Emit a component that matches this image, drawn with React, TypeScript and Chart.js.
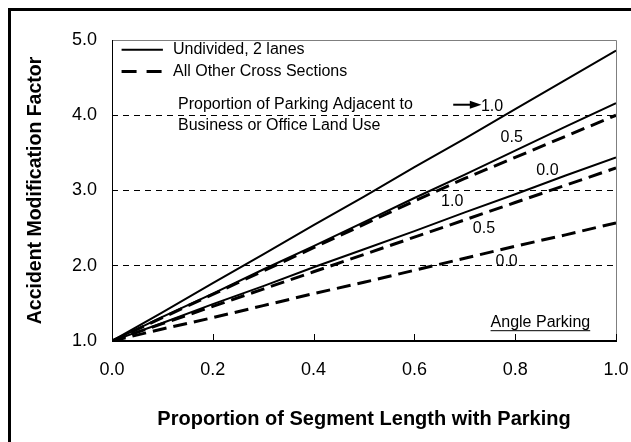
import React, { useEffect, useRef } from 'react';
import { Chart, registerables } from 'chart.js';

Chart.register(...registerables);

// ---- data ----
const proportionWithParking = [0, 0.1, 0.2, 0.3, 0.4, 0.5, 0.6, 0.7, 0.8, 0.9, 1.0];
const undivided10 = [1.0, 1.38, 1.77, 2.15, 2.54, 2.92, 3.31, 3.69, 4.08, 4.47, 4.86];
const undivided05 = [1.0, 1.32, 1.63, 1.95, 2.26, 2.58, 2.9, 3.21, 3.53, 3.85, 4.16];
const undivided00 = [1.0, 1.24, 1.49, 1.73, 1.98, 2.22, 2.46, 2.71, 2.95, 3.2, 3.44];
const other10 = [1.0, 1.31, 1.62, 1.93, 2.24, 2.55, 2.86, 3.16, 3.44, 3.72, 4.0];
const other05 = [1.0, 1.23, 1.46, 1.69, 1.92, 2.15, 2.38, 2.61, 2.84, 3.07, 3.3];
const other00 = [1.0, 1.16, 1.31, 1.47, 1.63, 1.78, 1.94, 2.1, 2.26, 2.41, 2.57];

const xTickLabels = ['0.0', '0.2', '0.4', '0.6', '0.8', '1.0'];
const yTickLabels = ['1.0', '2.0', '3.0', '4.0', '5.0'];
const curveLabels = ['1.0', '0.5', '0.0'];
const legendLabels = ['Undivided, 2 lanes', 'All Other Cross Sections'];
const noteLines = ['Proportion of Parking Adjacent to', 'Business or Office Land Use'];
const cornerNote = 'Angle Parking';
const xTitle = 'Proportion of Segment Length with Parking';
const yTitle = 'Accident Modification Factor';

const FONT = "'Liberation Sans', Arial, Helvetica, sans-serif";
const PLOT_DASH = [14, 7];

const annotationPlugin = {
  id: 'annotations',
  afterDatasetsDraw(chart: any) {
    const { ctx, scales } = chart;
    const xs = scales.x;
    const ys = scales.y;
    const px = (v: number) => xs.getPixelForValue(v);
    const py = (v: number) => ys.getPixelForValue(v);
    const left = px(0), right = px(1), top = py(5), bottom = py(1);
    ctx.save();

    // frame
    ctx.setLineDash([]);
    ctx.strokeStyle = '#7f7f7f';
    ctx.lineWidth = 1;
    ctx.beginPath();
    ctx.moveTo(left, Math.round(top) + 0.5);
    ctx.lineTo(Math.round(right) + 0.5, Math.round(top) + 0.5);
    ctx.lineTo(Math.round(right) + 0.5, bottom);
    ctx.stroke();
    ctx.strokeStyle = '#000';
    ctx.beginPath();
    ctx.moveTo(Math.round(left) + 0.5, top);
    ctx.lineTo(Math.round(left) + 0.5, bottom);
    ctx.stroke();
    ctx.lineWidth = 2;
    ctx.beginPath();
    ctx.moveTo(left, Math.round(bottom));
    ctx.lineTo(right + 1, Math.round(bottom));
    ctx.stroke();

    // inner x ticks
    ctx.lineWidth = 1;
    xs.ticks.forEach((t: any) => {
      const x = Math.round(px(t.value)) + 0.5;
      ctx.beginPath();
      ctx.moveTo(x, bottom);
      ctx.lineTo(x, bottom - 7);
      ctx.stroke();
    });

    // legend
    ctx.fillStyle = '#000';
    ctx.font = `16px ${FONT}`;
    ctx.textBaseline = 'middle';
    ctx.textAlign = 'left';
    ctx.lineWidth = 2;
    ctx.beginPath();
    ctx.moveTo(px(0.019), py(4.87));
    ctx.lineTo(px(0.101), py(4.87));
    ctx.stroke();
    ctx.fillText(legendLabels[0], px(0.121), py(4.87));
    ctx.lineWidth = 3;
    ctx.setLineDash([15, 10]);
    ctx.beginPath();
    ctx.moveTo(px(0.019), py(4.58));
    ctx.lineTo(px(0.101), py(4.58));
    ctx.stroke();
    ctx.setLineDash([]);
    ctx.fillText(legendLabels[1], px(0.121), py(4.58));

    // note with arrow
    ctx.fillText(noteLines[0], px(0.131), py(4.14));
    ctx.fillText(noteLines[1], px(0.131), py(3.86));
    ctx.lineWidth = 2;
    ctx.beginPath();
    ctx.moveTo(px(0.677), py(4.14));
    ctx.lineTo(px(0.715), py(4.14));
    ctx.stroke();
    ctx.beginPath();
    ctx.moveTo(px(0.71), py(4.14) - 4);
    ctx.lineTo(px(0.733), py(4.14));
    ctx.lineTo(px(0.71), py(4.14) + 4);
    ctx.closePath();
    ctx.fill();

    // curve labels
    ctx.textAlign = 'center';
    ctx.fillText(curveLabels[0], px(0.754), py(4.11));
    ctx.fillText(curveLabels[1], px(0.793), py(3.7));
    ctx.fillText(curveLabels[2], px(0.864), py(3.27));
    ctx.fillText(curveLabels[0], px(0.675), py(2.85));
    ctx.fillText(curveLabels[1], px(0.738), py(2.5));
    ctx.fillText(curveLabels[2], px(0.783), py(2.05));

    // corner note, underlined
    ctx.textAlign = 'left';
    const w = ctx.measureText(cornerNote).width;
    const nx = px(0.85) - w / 2;
    ctx.fillText(cornerNote, nx, py(1.25));
    ctx.lineWidth = 1;
    ctx.beginPath();
    ctx.moveTo(nx, py(1.25) + 8.5);
    ctx.lineTo(nx + w, py(1.25) + 8.5);
    ctx.stroke();

    ctx.restore();
  },
};

function lineDataset(label: string, data: number[], dashed: boolean) {
  return {
    label,
    data: proportionWithParking.map((x, i) => ({ x, y: data[i] })),
    borderColor: '#000',
    backgroundColor: '#000',
    borderWidth: dashed ? 3 : 2,
    borderDash: dashed ? PLOT_DASH : [],
    pointRadius: 0,
    tension: 0,
    fill: false,
  };
}

export default function App() {
  const canvasRef = useRef<HTMLCanvasElement | null>(null);

  useEffect(() => {
    const canvas = canvasRef.current;
    if (!canvas) return;
    const chart = new Chart(canvas, {
      type: 'line',
      data: {
        datasets: [
          lineDataset(`${legendLabels[0]} ${curveLabels[0]}`, undivided10, false),
          lineDataset(`${legendLabels[0]} ${curveLabels[1]}`, undivided05, false),
          lineDataset(`${legendLabels[0]} ${curveLabels[2]}`, undivided00, false),
          lineDataset(`${legendLabels[1]} ${curveLabels[0]}`, other10, true),
          lineDataset(`${legendLabels[1]} ${curveLabels[1]}`, other05, true),
          lineDataset(`${legendLabels[1]} ${curveLabels[2]}`, other00, true),
        ],
      },
      options: {
        responsive: false,
        animation: false,
        devicePixelRatio: 1,
        layout: { padding: { top: 29, right: 15, bottom: 0, left: 0 } },
        plugins: {
          legend: { display: false },
          tooltip: { enabled: false },
        },
        scales: {
          x: {
            type: 'linear',
            min: 0,
            max: 1,
            afterFit: (s: any) => {
              s.height = 101;
              s.paddingRight = 0;
              s.paddingLeft = 0;
            },
            afterBuildTicks: (s: any) => {
              s.ticks = xTickLabels.map((l) => ({ value: parseFloat(l) }));
            },
            ticks: {
              callback: (v: any) => xTickLabels[Math.round(Number(v) / 0.2)],
              font: { family: FONT, size: 18 },
              color: '#000',
              padding: 18,
              maxRotation: 0,
              autoSkip: false,
            },
            grid: { display: false, drawTicks: false, tickLength: 0 },
            border: { display: false },
            title: {
              display: true,
              text: xTitle,
              font: { family: FONT, size: 20, weight: 'bold' },
              color: '#000',
              padding: { top: 0, bottom: 11 },
            },
          },
          y: {
            type: 'linear',
            min: 1,
            max: 5,
            afterFit: (s: any) => {
              s.width = 101;
              s.paddingTop = 0;
              s.paddingBottom = 0;
            },
            afterBuildTicks: (s: any) => {
              s.ticks = yTickLabels.map((l) => ({ value: parseFloat(l) }));
            },
            ticks: {
              callback: (v: any) => yTickLabels[Math.round(Number(v)) - 1],
              font: { family: FONT, size: 18 },
              color: '#000',
              padding: 15,
              autoSkip: false,
            },
            grid: {
              drawTicks: false,
              tickLength: 0,
              lineWidth: 1,
              color: (c: any) => (c.tick && c.tick.value > 1 && c.tick.value < 5 ? '#000' : 'rgba(0,0,0,0)'),
            },
            border: { display: false, dash: [6, 5] },
            title: {
              display: true,
              text: yTitle,
              font: { family: FONT, size: 19.5, weight: 'bold' },
              color: '#000',
              padding: { top: 13, bottom: 0 },
            },
          },
        },
      },
      plugins: [annotationPlugin],
    } as any);
    return () => chart.destroy();
  }, []);

  return (
    <div
      style={{
        position: 'fixed',
        left: 8,
        top: 8,
        borderTop: '3px solid #000',
        borderLeft: '3px solid #000',
        width: 620,
        height: 431,
        background: '#fff',
      }}
    >
      <canvas ref={canvasRef} width={620} height={431} style={{ display: 'block', width: 620, height: 431 }} />
    </div>
  );
}
